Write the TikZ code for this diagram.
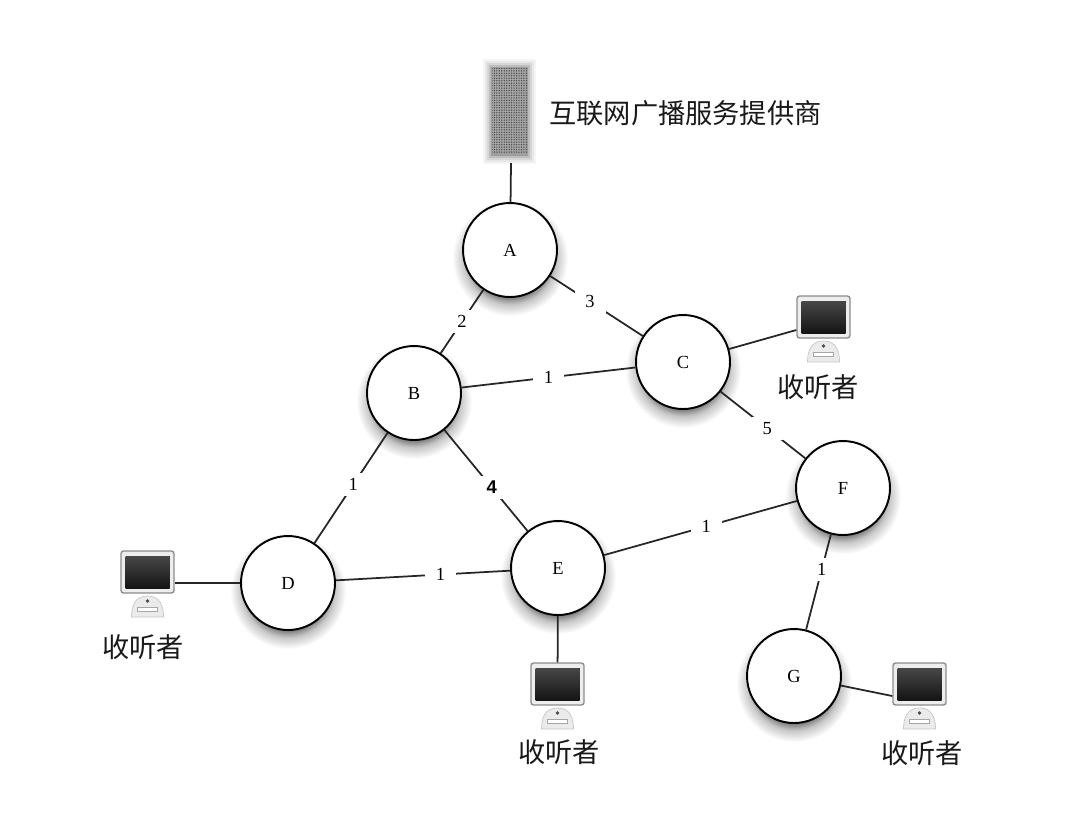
\documentclass[tikz,border=0pt]{standalone}
\usepackage{fontspec}
\setmainfont{Liberation Serif}
\newfontfamily\cjk{Noto Sans CJK SC}
\newfontfamily\labelsans{Liberation Sans}
\usetikzlibrary{patterns,backgrounds,calc}
\pgfdeclareradialshading{routerglow}{\pgfpoint{0bp}{0bp}}{
  color(0bp)=(black!60); color(16bp)=(black!60); color(20bp)=(black!22); color(25bp)=(white); color(50bp)=(white)}
\pgfdeclarepatternformonly{finedots}{\pgfqpoint{-0.5pt}{-0.5pt}}{\pgfqpoint{0.5pt}{0.5pt}}{\pgfqpoint{1.4pt}{1.4pt}}{
  \pgfpathcircle{\pgfqpoint{0pt}{0pt}}{0.42pt}\pgfusepath{fill}}
\tikzset{
  router/.style={circle, draw=black, line width=1.1pt, fill=white, minimum size=1.88cm, inner sep=0pt, font=\fontsize{10.5}{12}\selectfont},
  link/.style={draw=black!85, line width=1pt},
  weight/.style={fill=white, inner sep=0pt, minimum width=0.62cm, minimum height=0.46cm, font=\fontsize{10.5}{12}\selectfont},
  caption/.style={inner sep=0pt, font=\cjk\fontsize{15.5}{17}\selectfont, text=black!90},
  monframe/.style={draw=black!45, fill=black!7, rounded corners=1.5pt, line width=0.8pt, minimum width=1.06cm, minimum height=0.84cm, inner sep=0pt},
  listener/.pic={
    \draw[black!22, fill=black!8] (-16,45) .. controls (-16,27) and (-7,24) .. (0,24)
        .. controls (7,24) and (16,27) .. (16,45) -- cycle;
    \draw[black!35, fill=white] (-10,35) rectangle (10,39);
    \fill[black!70] (0,29) circle (1.8);
    \node[monframe] (-frame) at (0,0) {};
    \fill[top color=black!72, bottom color=black!92] (-22,-16) rectangle (22,16);
  }
}
\begin{document}
\begin{tikzpicture}[x=0.02cm, y=-0.02cm]
  \useasboundingbox (0,0) rectangle (1087,826);

  % server with its soft edge
  \foreach \grow/\shade in {9/4, 7/9, 5/16, 3/26, 1/38}
    \fill[black!\shade] (492-\grow,68-\grow) rectangle (527+\grow,155+\grow);
  \node[preaction={fill=black!35}, pattern=finedots, pattern color=black!72, minimum width=0.7cm, minimum height=1.68cm, inner sep=0pt] (server) at (509.5,110) {};
  \node[caption, anchor=west] (provider) at (549,113) {互联网广播服务提供商};

  \node[router] (A) at (510,250) {A};
  \node[router] (B) at (414,393) {B};
  \node[router] (C) at (683,362) {C};
  \node[router] (D) at (288,583) {D};
  \node[router] (E) at (558,568) {E};
  \node[router] (F) at (843,488) {F};
  \node[router] (G) at (794,676) {G};

  \begin{scope}[on background layer]
    \foreach \name in {A,B,C,D,E,F,G}
      \shade[shading=routerglow] ($(\name)+(0,8)$) circle (58);
  \end{scope}

  \coordinate (serverfoot) at (511,163);
  \draw[link] (serverfoot) -- (A);
  \draw[link] (A) -- node[weight] {2} (B);
  \draw[link] (A) -- node[weight, pos=0.43] {3} (C);
  \draw[link] (B) -- node[weight] {1} (C);
  \draw[link] (B) -- node[weight, pos=0.47] {1} (D);
  \draw[link] (B) -- node[weight, pos=0.57, font=\labelsans\bfseries\fontsize{10.5}{12}\selectfont] {4} (E);
  \draw[link] (C) -- node[weight, pos=0.55] {5} (F);
  \draw[link] (D) -- node[weight, pos=0.6] {1} (E);
  \draw[link] (E) -- node[weight, pos=0.53] {1} (F);
  \draw[link] (F) -- node[weight, pos=0.37] {1} (G);

  \pic (monC) at (823.5,317) {listener};
  \pic (monD) at (147.5,572) {listener};
  \pic (monE) at (557.5,684) {listener};
  \pic (monG) at (919.5,684) {listener};

  \draw[link] (C) -- ($(monC-frame.west)+(0,13)$);
  \draw[link] (D.west) -- (D.west -| monD-frame.east);
  \draw[link] (E) -- (monE-frame);
  \draw[link] (G) -- ($(monG-frame.west)+(0,12)$);

  \node[caption] (capC) at (818,387) {收听者};
  \node[caption] (capD) at (143,647) {收听者};
  \node[caption] (capE) at (559,752) {收听者};
  \node[caption] (capG) at (922,753) {收听者};
\end{tikzpicture}
\end{document}
